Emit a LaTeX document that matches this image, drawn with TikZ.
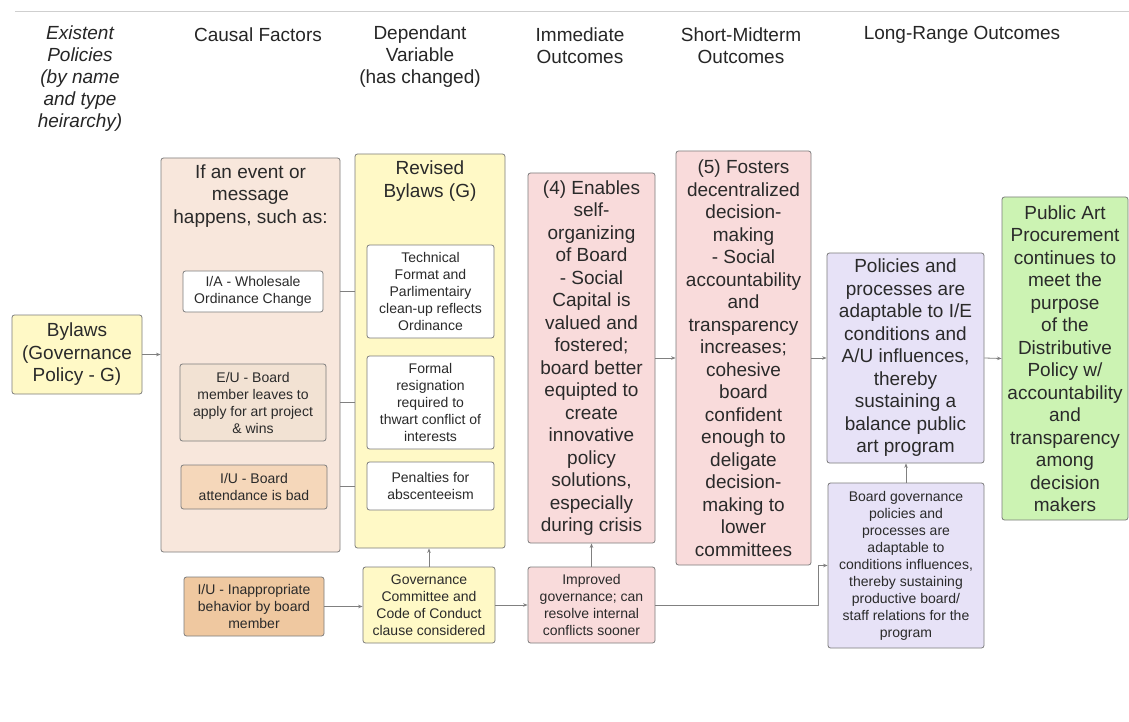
\documentclass[tikz,border=0pt]{standalone}
\usepackage{fontspec}
\setmainfont{Liberation Sans}
\usetikzlibrary{arrows.meta}

\definecolor{boxline}{HTML}{7C7C7C}
\definecolor{conn}{HTML}{808080}
\definecolor{txt}{HTML}{2A2A2A}
\definecolor{hdtxt}{HTML}{262626}
\definecolor{ruleline}{HTML}{CFCFCF}
\definecolor{paleyellow}{HTML}{FFF9C6}
\definecolor{peach}{HTML}{F8E7DC}
\definecolor{beige}{HTML}{F2E2D3}
\definecolor{apricot}{HTML}{F5D7BA}
\definecolor{orange}{HTML}{EFC8A0}
\definecolor{pink}{HTML}{F9DBDB}
\definecolor{lilac}{HTML}{E7E2F7}
\definecolor{mint}{HTML}{CCF3B3}

\begin{document}
\begin{tikzpicture}[x=1pt,y=-1pt,
  box/.style={draw=boxline, line width=0.8pt, rounded corners=2.5pt,
    align=center, inner sep=0pt, text=txt},
  big/.style={font=\fontsize{19}{22.5}\selectfont},
  small/.style={font=\fontsize{14}{17}\selectfont},
  head/.style={font=\fontsize{19}{22}\selectfont, align=center, text=hdtxt},
  arr/.style={draw=conn, line width=0.8pt, -{Stealth[length=4.5pt,width=3.5pt]}},
  link/.style={draw=conn, line width=0.8pt}]
\useasboundingbox (0,0) rectangle (1129,722);
\fill[white] (0,0) rectangle (1129,722);

% rule under the page header
\draw[ruleline, line width=0.8pt] (15,11) -- (1129,11);

% column headings
\node[head, font=\fontsize{19}{22}\selectfont\itshape] (h1) at (80,79)
  {Existent\\Policies\\(by name\\and type\\heirarchy)};
\node[head] (h2) at (258,35) {Causal Factors};
\node[head] (h3) at (420,57) {Dependant\\Variable\\(has changed)};
\node[head] (h4) at (580,46) {Immediate\\Outcomes};
\node[head] (h5) at (741,46) {Short-Midterm\\Outcomes};
\node[head] (h6) at (962,35) {Long-Range Outcomes};

% existing policy
\node[box, big, fill=paleyellow, minimum width=130pt, minimum height=79pt]
  (bylaws) at (77,354.5) {Bylaws\\(Governance\\Policy - G)};

% causal factors
\node[box, fill=peach, minimum width=179pt, minimum height=394pt]
  (causal) at (250.5,355) {};
\node[big, align=center, text=txt] (causaltitle) at (250.5,196)
  {If an event or\\message\\happens, such as:};
\node[box, small, fill=white, minimum width=140pt, minimum height=41pt]
  (ia) at (253,291.5) {I/A - Wholesale\\Ordinance Change};
\node[box, small, fill=beige, minimum width=146pt, minimum height=77pt]
  (eu) at (253,402.5) {E/U - Board\\member leaves to\\apply for art project\\\& wins};
\node[box, small, fill=apricot, minimum width=146pt, minimum height=44pt]
  (iu) at (254,487) {I/U - Board\\attendance is bad};

% dependant variable
\node[box, fill=paleyellow, minimum width=150pt, minimum height=394pt]
  (rev) at (430,351) {};
\node[big, align=center, text=txt] (revtitle) at (430,181) {Revised\\Bylaws (G)};
\node[box, small, fill=white, minimum width=127pt, minimum height=93pt]
  (tech) at (430.5,291.5) {Technical\\Format and\\Parlimentairy\\clean-up reflects\\Ordinance};
\node[box, small, fill=white, minimum width=127pt, minimum height=93pt]
  (formal) at (430.5,402.5) {Formal\\resignation\\required to\\thwart conflict of\\interests};
\node[box, small, fill=white, minimum width=127pt, minimum height=48pt]
  (pen) at (430.5,486) {Penalties for\\abscenteeism};

% outcomes
\node[box, big, fill=pink, minimum width=127pt, minimum height=370pt]
  (four) at (591.5,358) {(4) Enables\\self-\\organizing\\of Board\\- Social\\Capital is\\valued and\\fostered;\\board better\\equipted to\\create\\innovative\\policy\\solutions,\\especially\\during crisis};
\node[box, big, fill=pink, minimum width=135pt, minimum height=414pt]
  (five) at (743.5,358) {(5) Fosters\\decentralized\\decision-\\making\\- Social\\accountability\\and\\transparency\\increases;\\cohesive\\board\\confident\\enough to\\deligate\\decision-\\making to\\lower\\committees};
\node[box, big, fill=lilac, minimum width=157pt, minimum height=210pt]
  (pol) at (905.5,358) {Policies and\\processes are\\adaptable to I/E\\conditions and\\A/U influences,\\thereby\\sustaining a\\balance public\\art program};
\node[box, small, fill=lilac, minimum width=156pt, minimum height=165pt]
  (bgov) at (906,565.5) {Board governance\\policies and\\processes are\\adaptable to\\conditions influences,\\thereby sustaining\\productive board/\\staff relations for the\\program};
\node[box, big, fill=mint, minimum width=126pt, minimum height=323pt]
  (pub) at (1065,358.5) {Public Art\\Procurement\\continues to\\meet the\\purpose\\of the\\Distributive\\Policy w/\\accountability\\and\\transparency\\among\\decision\\makers};

% lower row
\node[box, small, fill=orange, minimum width=140pt, minimum height=59pt]
  (iu2) at (254,606.5) {I/U - Inappropriate\\behavior by board\\member};
\node[box, small, fill=paleyellow, minimum width=132pt, minimum height=76pt]
  (gov) at (429,605) {Governance\\Committee and\\Code of Conduct\\clause considered};
\node[box, small, fill=pink, minimum width=127pt, minimum height=76pt]
  (imp) at (591.5,605) {Improved\\governance; can\\resolve internal\\conflicts sooner};

% connectors
\draw[arr] (bylaws.east) -- (causal.west |- bylaws.east);
\draw[link] (causal.east |- tech.west) -- (rev.west |- tech.west);
\draw[link] (causal.east |- formal.west) -- (rev.west |- formal.west);
\draw[link] (causal.east |- pen.west) -- (rev.west |- pen.west);
\draw[arr] (four.east) -- (five.west);
\draw[arr] (five.east) -- (pol.west);
\draw[arr] (pol.east) -- (pub.west);
\draw[arr] (iu2.east) -- (gov.west |- iu2.east);
\draw[arr] (gov.north) -- (gov.north |- rev.south);
\draw[arr] (gov.east) -- (imp.west);
\draw[arr] (imp.north) -- (four.south);
\draw[arr] (bgov.north) -- (bgov.north |- pol.south);
\draw[arr] (imp.east) -| ([xshift=-9pt]bgov.west) -- (bgov.west);
\end{tikzpicture}
\end{document}
